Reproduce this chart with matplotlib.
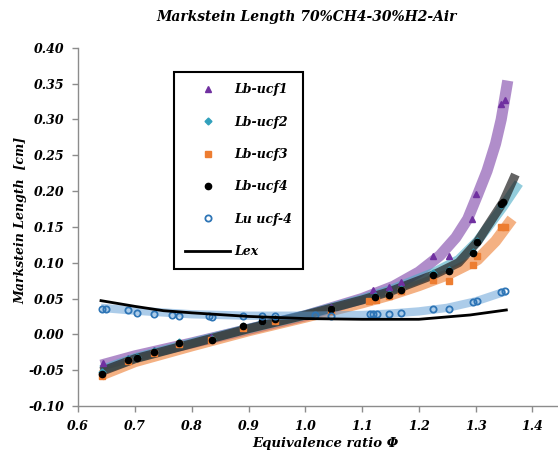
import matplotlib
matplotlib.use("Agg")
import matplotlib.pyplot as plt

# ---------------- data ----------------
x_ucf1 = [0.644, 0.688, 0.734, 0.778, 0.833, 0.891, 0.946, 1.046, 1.120, 1.148, 1.169, 1.224, 1.253, 1.294, 1.301, 1.345, 1.351]
y_ucf1 = [-0.040, -0.033, -0.022, -0.012, -0.004, 0.011, 0.022, 0.038, 0.062, 0.066, 0.073, 0.110, 0.110, 0.161, 0.196, 0.321, 0.327]

x_ucf2 = [0.642, 0.688, 0.703, 0.734, 0.778, 0.835, 0.891, 0.924, 0.946, 1.046, 1.123, 1.148, 1.169, 1.224, 1.253, 1.295, 1.302, 1.345, 1.348]
y_ucf2 = [-0.053, -0.035, -0.032, -0.023, -0.011, -0.007, 0.012, 0.018, 0.021, 0.035, 0.053, 0.056, 0.063, 0.085, 0.090, 0.115, 0.130, 0.180, 0.183]

x_ucf3 = [0.642, 0.688, 0.734, 0.778, 0.833, 0.891, 0.946, 1.046, 1.112, 1.125, 1.148, 1.169, 1.224, 1.253, 1.295, 1.302, 1.345, 1.352]
y_ucf3 = [-0.058, -0.037, -0.026, -0.014, -0.008, 0.009, 0.019, 0.033, 0.046, 0.048, 0.054, 0.060, 0.076, 0.075, 0.097, 0.109, 0.150, 0.150]

x_ucf4 = [0.642, 0.688, 0.703, 0.734, 0.778, 0.835, 0.891, 0.924, 0.946, 1.046, 1.123, 1.148, 1.169, 1.224, 1.253, 1.295, 1.302, 1.345, 1.348]
y_ucf4 = [-0.055, -0.036, -0.033, -0.024, -0.012, -0.008, 0.011, 0.018, 0.021, 0.035, 0.052, 0.055, 0.062, 0.083, 0.088, 0.113, 0.129, 0.182, 0.185]

x_lu = [0.642, 0.648, 0.688, 0.703, 0.734, 0.765, 0.778, 0.831, 0.835, 0.891, 0.924, 0.946, 1.017, 1.046, 1.114, 1.120, 1.126, 1.147, 1.169, 1.224, 1.253, 1.295, 1.302, 1.345, 1.351]
y_lu = [0.036, 0.036, 0.034, 0.030, 0.029, 0.027, 0.026, 0.026, 0.024, 0.026, 0.026, 0.026, 0.027, 0.026, 0.028, 0.028, 0.028, 0.029, 0.030, 0.036, 0.036, 0.045, 0.047, 0.059, 0.061]

x_lex = [0.640, 0.700, 0.750, 0.800, 0.900, 1.000, 1.100, 1.200, 1.290, 1.354]
y_lex = [0.047, 0.039, 0.033, 0.030, 0.025, 0.022, 0.021, 0.021, 0.027, 0.034]

# trend bands (centre lines)
bx_ucf1 = [0.64, 0.70, 0.80, 0.90, 1.00, 1.10, 1.155, 1.20, 1.237, 1.265, 1.286, 1.303, 1.320, 1.335, 1.345, 1.3565]
by_ucf1 = [-0.043, -0.030, -0.012, 0.007, 0.026, 0.050, 0.067, 0.087, 0.110, 0.135, 0.161, 0.194, 0.228, 0.266, 0.300, 0.354]

bx_ucf3 = [0.64, 0.70, 0.80, 0.90, 1.00, 1.10, 1.15, 1.20, 1.25, 1.303, 1.335, 1.364]
by_ucf3 = [-0.057, -0.038, -0.016, 0.005, 0.024, 0.044, 0.055, 0.068, 0.083, 0.104, 0.130, 0.161]

bx_ucf2 = [0.64, 0.70, 0.80, 0.90, 1.00, 1.10, 1.15, 1.226, 1.270, 1.303, 1.320, 1.348, 1.376]
by_ucf2 = [-0.050, -0.033, -0.012, 0.008, 0.027, 0.049, 0.062, 0.086, 0.104, 0.130, 0.148, 0.178, 0.211]

bx_ucf4 = [0.64, 0.70, 0.80, 0.90, 1.00, 1.10, 1.15, 1.226, 1.270, 1.303, 1.320, 1.348, 1.370]
by_ucf4 = [-0.052, -0.034, -0.013, 0.008, 0.027, 0.048, 0.060, 0.083, 0.100, 0.129, 0.150, 0.184, 0.223]

bx_lu = [0.64, 0.70, 0.80, 0.90, 1.00, 1.10, 1.15, 1.20, 1.25, 1.30, 1.353]
by_lu = [0.037, 0.033, 0.028, 0.026, 0.026, 0.027, 0.029, 0.032, 0.037, 0.046, 0.060]

xticks = [0.6, 0.7, 0.8, 0.9, 1.0, 1.1, 1.2, 1.3, 1.4]
yticks = [-0.10, -0.05, 0.00, 0.05, 0.10, 0.15, 0.20, 0.25, 0.30, 0.35, 0.40]

# ---------------- styling ----------------
FONT = "DejaVu Serif"
fkw = dict(family=FONT, weight="bold", style="italic")

fig = plt.figure(figsize=(5.58, 4.54), dpi=100)
ax = fig.add_axes([0.1403, 0.1057, 1 - 0.1403, 0.895 - 0.1057])

band_kw = dict(solid_capstyle="butt", solid_joinstyle="round", zorder=2)
ax.plot(bx_ucf1, by_ucf1, color="#7030A0", alpha=0.55, lw=8, **band_kw)
ax.plot(bx_ucf3, by_ucf3, color="#ED7D31", alpha=0.6, lw=8, **band_kw)
ax.plot(bx_ucf2, by_ucf2, color="#4BACC6", alpha=0.6, lw=7, **band_kw)
ax.plot(bx_ucf4, by_ucf4, color="#222222", alpha=0.7, lw=6.5, **band_kw)
ax.plot(bx_lu, by_lu, color="#5B9BD5", alpha=0.5, lw=6, **band_kw)

ax.plot(x_ucf1, y_ucf1, ls="none", marker="^", ms=5, color="#7030A0", zorder=3, label="Lb-ucf1")
ax.plot(x_ucf2, y_ucf2, ls="none", marker="D", ms=3.5, color="#31A0BC", zorder=3, label="Lb-ucf2")
ax.plot(x_ucf3, y_ucf3, ls="none", marker="s", ms=4.5, color="#ED7D31", zorder=3, label="Lb-ucf3")
ax.plot(x_ucf4, y_ucf4, ls="none", marker="o", ms=4.5, color="black", zorder=3, label="Lb-ucf4")
ax.plot(x_lu, y_lu, ls="none", marker="o", ms=4.5, mfc="none", mec="#2E75B6", mew=1.3, zorder=3, label="Lu ucf-4")
ax.plot(x_lex, y_lex, color="black", lw=2, zorder=4, label="Lex")

ax.set_xlim(0.6, 1.445)
ax.set_ylim(-0.10, 0.40)
ax.set_xticks(xticks)
ax.set_yticks(yticks)
ax.set_xticklabels([f"{v:.1f}" for v in xticks])
ax.set_yticklabels([f"{v:.2f}" for v in yticks])
for lab in ax.get_xticklabels() + ax.get_yticklabels():
    lab.set_fontfamily(FONT); lab.set_fontweight("bold"); lab.set_fontstyle("italic"); lab.set_fontsize(9)

for s in ["top", "right"]:
    ax.spines[s].set_visible(False)
for s in ["left", "bottom"]:
    ax.spines[s].set_color("#8c8c8c")
    ax.spines[s].set_linewidth(1.0)
ax.tick_params(direction="out", length=4, color="#8c8c8c", width=1.0)
ax.tick_params(axis="y", pad=6)
ax.tick_params(axis="x", pad=6)

fig.text(307 / 558, 1 - 17 / 454, "Markstein Length 70%CH4-30%H2-Air", ha="center", va="center", fontsize=10, **fkw)
fig.text(325 / 558, 1 - 443 / 454, "Equivalence ratio Φ", ha="center", va="center", fontsize=9.5, **fkw)
fig.text(21 / 558, 1 - 220 / 454, "Markstein Length  [cm]", ha="center", va="center", rotation=90, fontsize=9, **fkw)

leg = ax.legend(loc="upper left", bbox_to_anchor=(174 / 558, 1 - 72 / 454), bbox_transform=fig.transFigure,
                frameon=True, fancybox=False, edgecolor="black", framealpha=1,
                prop=dict(family=FONT, weight="bold", style="italic", size=9),
                handlelength=3.6, handletextpad=0.3, labelspacing=1.55, borderpad=0.9, borderaxespad=0)
leg.get_frame().set_linewidth(1.5)

fig.savefig("out.png", dpi=100)
